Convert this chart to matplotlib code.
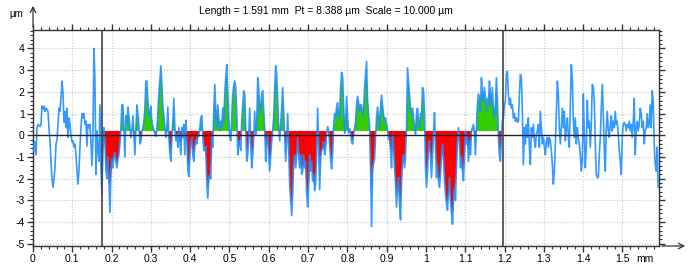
"""
Roughness profile chart: primary profile with the evaluation window
marked and the areas above / below the reference level filled.
"""

import numpy as np
import matplotlib
matplotlib.use("Agg")
import matplotlib.pyplot as plt
from matplotlib.ticker import MultipleLocator, FuncFormatter

LENGTH_MM = 1.591
PT_UM = 8.388
SCALE_UM = 10.000
EVAL_START = 0.175      # evaluation window, mm
EVAL_END = 1.195
FILL_LEVEL = 0.2        # level the green / red areas are filled against, µm

# profile heights in µm at an even sampling step
profile_0 = [
    -0.4, -0.7, -0.3, -0.9, 0.35, 0.5, 0.45, 0.4, 0.5, 1.35,
    1.2, 1.35, 1.1, 1.25, 1.2, 1.1, 0.35, -0.25, -1.2, -2.0,
    -2.4, -2.0, -1.5, -0.4, -0.25, 0.5, 1.25, 1.1, 1.7, 2.5,
    2.0, 0.6, 1.1, 0.35, 1.25, -0.1, 0.8, 0.5, 0.0, -0.3,
    -0.25, -0.55, -0.4, -0.9, -1.6, -2.25, -1.65, -0.55, 0.35, 1.0,
    0.8, 1.0, 0.5, 0.65, -0.5, 0.5, 0.35, 0.5, -0.25, -1.4,
    -0.2, 4.0, 2.6, -1.8, 0.2, -0.7, -1.2, 1.4, -1.5, -2.7,
    -0.7, 0.35, -0.2, -1.6, -2.0, -1.0, -2.0, -3.55, -1.6, -1.1,
    -1.5, -0.95, -0.8, -1.2, -1.5, -1.1, -0.9, -0.4, 0.3, 1.4,
]
profile_1 = [
    1.4, 0.35, -1.0, 0.9, 0.5, 1.3, 0.9, 0.4, -0.1, 0.2,
    0.9, 0.1, -0.9, 0.3, 1.4, 1.0, 0.45, -0.4, -0.3, 0.15,
    0.35, 0.6, 1.2, 2.5, 2.5, 1.6, 0.9, 1.0, 1.35, 0.6,
    0.4, 0.25, 0.1, -0.05, 0.2, 1.0, 1.9, 2.5, 3.2, 2.4,
    1.3, 0.9, 0.45, -0.1, 0.2, 1.3, -0.1, -0.8, -1.2, -0.2,
    0.6, 1.7, 0.35, -0.25, 0.05, -0.55, 0.35, -0.25, -0.9, 0.35,
    -0.1, 0.5, -0.9, 0.7, -0.2, -1.6, -1.9, -1.0, -0.3, -0.1,
    -0.9, -1.2, -0.5, -0.2, -0.4, 0.0, -0.05, 0.3, 0.8, 0.9,
    0.0, -0.7, -0.7, -0.5, -2.2, -2.9, -2.0, -1.8, -2.0, 0.0,
]
profile_2 = [
    -0.55, 1.1, 2.35, 1.1, 0.35, 1.4, 0.8, 0.2, 0.65, 0.35,
    1.25, 0.65, 1.9, 2.65, 3.25, 2.0, 0.8, -0.1, -0.25, 0.8,
    1.9, 2.3, 2.5, 2.2, 1.0, -0.9, -0.25, -0.4, -0.7, 0.65,
    1.4, 2.05, 1.9, 0.35, -1.2, -0.9, -0.1, 1.25, -0.4, -1.5,
    -0.9, -0.1, 1.1, 0.05, 0.35, 2.65, 2.2, 1.0, 1.25, 1.9,
    2.05, 1.1, 0.35, -1.2, -0.25, 0.05, -0.9, -1.65, -0.9, -0.25,
    0.2, 0.8, 2.2, 3.2, 2.8, 1.6, 0.35, -0.25, 0.5, 1.25,
    2.2, 1.1, -0.1, -1.2, -0.25, 1.0, -0.7, -2.25, -3.0, -3.7,
    -2.7, -1.2, -0.9, -1.5, -0.9, -0.1, -0.9, -1.5, -0.9, -1.8,
]
profile_3 = [
    -1.65, -0.9, -1.5, -1.2, -2.7, -3.3, -2.4, -0.9, -1.65, -1.2,
    -2.1, -1.8, -2.55, -2.25, -0.9, 1.25, -0.5, -2.5, -1.0, -0.7,
    -0.6, -0.3, -0.9, -0.6, 0.1, 0.4, 0.2, -0.4, -1.1, -1.55,
    -0.8, 0.5, 1.0, 0.8, 1.3, 1.5, 0.9, 0.8, 2.2, 2.9,
    2.7, 1.4, 0.1, 0.5, 1.8, 0.8, 0.1, 0.3, 0.1, -0.3,
    -0.4, 0.0, 0.35, 0.6, 1.4, 1.8, 1.5, 1.1, 1.4, 1.4,
    0.9, 1.0, 2.2, 2.8, 3.4, 1.6, 0.95, 0.5, -1.5, -4.2,
    -1.5, -1.3, -1.1, 0.0, 0.8, 1.3, 0.9, 0.4, 1.3, 1.85,
    1.4, 0.9, 0.7, 0.8, 0.5, 0.25, -0.2, -0.1, -0.7, -1.5,
]
profile_4 = [
    0.05, -0.55, -1.5, -2.25, -3.3, -2.4, -1.95, -3.15, -3.9, -2.1,
    -1.2, -0.9, -1.5, -1.0, 0.35, 3.1, 2.5, 1.9, 1.25, 1.0,
    1.25, 0.8, 0.35, 0.05, 1.0, 1.25, 0.65, 0.35, 1.0, 0.8,
    2.2, 2.05, 1.0, -1.5, -2.4, -1.65, -0.55, -0.25, -0.9, -1.95,
    -0.9, 0.05, 1.05, -0.55, -1.95, -1.35, -2.1, -2.4, -1.8, -1.0,
    -0.4, -1.0, -2.1, -2.7, -3.15, -3.45, -2.7, -1.95, -3.0, -3.6,
    -4.1, -3.0, -2.4, -3.0, -1.5, -0.25, 0.35, -0.4, -1.5, -1.0,
    -1.65, -2.1, -0.9, 0.2, -0.4, -0.1, -1.2, -0.25, -0.9, 0.2,
    0.35, 0.5, 0.05, -0.9, 0.35, 1.4, 1.9, 1.7, 1.1, 2.65,
]
profile_5 = [
    1.9, 1.6, 2.2, 1.7, 1.1, 1.7, 1.4, 2.5, 1.9, 1.4,
    2.2, 1.1, 0.8, 1.4, 2.65, 1.6, -0.1, -0.9, -1.2, -0.1,
    0.65, 0.8, 1.4, 1.6, 2.8, 2.95, 1.9, 1.4, 1.7, 1.25,
    1.4, 0.8, 1.0, 0.65, 0.8, 0.6, 0.65, 1.9, 2.8, 2.65,
    1.0, -1.35, 0.35, -0.4, 0.5, -0.1, 0.8, -0.55, -1.35, 0.35,
    -0.1, 0.5, -0.25, -0.55, 0.05, 0.2, 0.5, -0.55, 1.1, 0.35,
    -0.4, -0.1, -0.55, -0.9, -0.25, -0.1, -0.55, -0.1, -0.25, -0.7,
    -1.35, -2.25, -1.65, -0.4, 1.1, 2.5, 1.9, 0.35, -0.4, 0.35,
    1.25, 0.35, 1.1, -0.25, 0.35, 0.8, -0.1, -0.55, 1.4, 3.25,
]
profile_6 = [
    2.6, 0.65, -0.1, 0.8, -0.4, 0.35, -0.1, -0.4, -0.9, -1.65,
    -1.2, 1.9, 0.05, -1.5, -0.55, 1.6, 0.35, 0.65, -0.55, 0.5,
    2.35, 2.2, 1.6, -0.4, -1.8, -1.95, -1.95, -0.9, -0.1, 1.25,
    2.35, 1.0, -0.7, -1.65, 0.35, 1.1, 0.2, -0.1, 0.5, 0.9,
    0.2, 0.65, 0.35, 1.1, 0.5, 0.65, 0.05, -0.7, -1.2, -1.8,
    -0.1, 0.5, 0.6, 0.5, 0.2, 0.5, 0.35, 0.65, 0.2, 0.5,
    -0.1, 0.65, 1.7, -0.9, 0.35, 0.65, 0.2, 0.5, 1.25, 1.0,
    0.35, 0.65, -0.4, 0.2, 0.35, 1.0, 0.35, 0.5, 1.4, 0.35,
    2.05, 1.6, -0.4, -1.35, -1.65, -0.55, -2.4,
]

LINE_BLUE = "#1f8fff"
FILL_GREEN = "#33cc00"
FILL_RED = "#ff0000"


def plot_profile(save_path: str = "out.png") -> None:
    z = np.array(profile_0 + profile_1 + profile_2 + profile_3
                 + profile_4 + profile_5 + profile_6)
    x = np.linspace(0, LENGTH_MM, len(z))

    plt.rcParams["font.family"] = ["Liberation Sans", "DejaVu Sans"]
    fig = plt.figure(figsize=(6.92, 2.67), dpi=100)
    ax = fig.add_axes([33 / 692, 21 / 267, 626 / 692, 216 / 267])

    # filled areas inside the evaluation window, from a lightly smoothed trace
    zs = np.convolve(z, np.ones(3) / 3, mode="same")
    m = (x >= EVAL_START) & (x <= EVAL_END)
    ax.fill_between(x[m], zs[m], FILL_LEVEL, where=zs[m] >= FILL_LEVEL,
                    interpolate=True, color=FILL_GREEN, lw=0, zorder=2)
    ax.fill_between(x[m], zs[m], FILL_LEVEL, where=zs[m] < FILL_LEVEL,
                    interpolate=True, color=FILL_RED, lw=0, zorder=2)

    ax.plot(x, z, color=LINE_BLUE, lw=1.2, alpha=0.9, zorder=3)
    ax.axhline(0, color="#222222", lw=1.0, zorder=4)
    for xv in (EVAL_START, EVAL_END):
        ax.axvline(xv, color="#444444", lw=1.2, zorder=4)

    ax.set_xlim(0, 1.593)
    ax.set_ylim(-5.1, 4.85)
    ax.xaxis.set_major_locator(MultipleLocator(0.1))
    ax.xaxis.set_minor_locator(MultipleLocator(0.02))
    ax.yaxis.set_major_locator(MultipleLocator(1))
    ax.yaxis.set_minor_locator(MultipleLocator(0.2))
    ax.xaxis.set_major_formatter(FuncFormatter(lambda v, _: f"{v:g}"))
    ax.yaxis.set_major_formatter(FuncFormatter(lambda v, _: f"{v:g}"))
    ax.grid(True, which="major", color="#c8c8c8", ls=(0, (1, 1.5)), lw=0.8)
    ax.set_axisbelow(True)

    ax.tick_params(which="both", direction="out", top=True, right=True,
                   labeltop=False, labelright=False, color="#333333",
                   labelsize=7.5, pad=2)
    ax.tick_params(which="major", length=4, width=1)
    ax.tick_params(which="minor", length=2.5, width=0.8)
    for spine in ax.spines.values():
        spine.set_edgecolor("#333333")
        spine.set_linewidth(1.0)

    # axis arrows and unit labels
    ax.annotate("", xy=(33 / 692, 1 - 3 / 267), xytext=(33 / 692, 1 - 30 / 267),
                xycoords="figure fraction", textcoords="figure fraction",
                arrowprops=dict(arrowstyle="->", color="#333333", lw=0.9))
    ax.annotate("", xy=(688 / 692, 1 - 246 / 267), xytext=(659 / 692, 1 - 246 / 267),
                xycoords="figure fraction", textcoords="figure fraction",
                arrowprops=dict(arrowstyle="->", color="#333333", lw=0.9))
    fig.text(9 / 692, 1 - 14 / 267, "µm", fontsize=7, va="center", ha="left")
    fig.text(636 / 692, 1 - 259 / 267, "mm", fontsize=7.5, va="center", ha="left")

    fig.text(326 / 692, 1 - 11 / 267,
             f"Length = {LENGTH_MM:.3f} mm  Pt = {PT_UM:.3f} µm  Scale = {SCALE_UM:.3f} µm",
             fontsize=7.5, ha="center", va="center")

    fig.savefig(save_path, dpi=100)
    plt.close(fig)


if __name__ == "__main__":
    plot_profile()
